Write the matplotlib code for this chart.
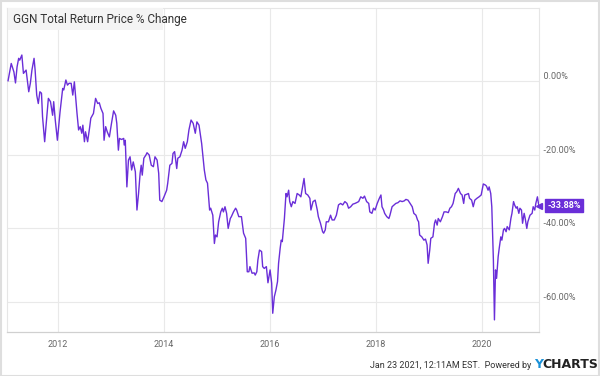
import matplotlib
matplotlib.use("Agg")
import matplotlib.pyplot as plt
from matplotlib import font_manager
from matplotlib.patches import Rectangle

# ---------------- data (decimal year, % change) ----------------
years = [
    2011.06, 2011.12, 2011.14, 2011.17, 2011.20, 2011.23, 2011.26, 2011.28, 2011.32, 2011.35,
    2011.40, 2011.45, 2011.48, 2011.51, 2011.55, 2011.57, 2011.60, 2011.63, 2011.66, 2011.69,
    2011.71, 2011.75, 2011.79, 2011.82, 2011.86, 2011.90, 2011.92, 2011.95, 2011.99,
    2012.04, 2012.09, 2012.11, 2012.15, 2012.18, 2012.21, 2012.25, 2012.28, 2012.31, 2012.36,
    2012.39, 2012.42, 2012.45, 2012.47, 2012.50, 2012.52, 2012.56, 2012.60, 2012.62, 2012.67,
    2012.71, 2012.75, 2012.78, 2012.81, 2012.85, 2012.87, 2012.90, 2012.93, 2012.97,
    2013.01, 2013.05, 2013.09, 2013.11, 2013.14, 2013.16, 2013.20, 2013.24, 2013.25, 2013.27,
    2013.30, 2013.33, 2013.36, 2013.39, 2013.42, 2013.46, 2013.49, 2013.52, 2013.55, 2013.57,
    2013.59, 2013.62, 2013.66, 2013.68, 2013.72, 2013.76, 2013.80, 2013.83, 2013.87, 2013.90,
    2013.92, 2013.96,
    2014.00, 2014.05, 2014.07, 2014.11, 2014.15, 2014.17, 2014.20, 2014.24, 2014.26, 2014.30,
    2014.34, 2014.37, 2014.40, 2014.44, 2014.47, 2014.51, 2014.55, 2014.59, 2014.62, 2014.66,
    2014.71, 2014.74, 2014.76, 2014.79, 2014.82, 2014.86, 2014.88, 2014.92, 2014.95, 2014.97,
    2015.00, 2015.03, 2015.07, 2015.10, 2015.12, 2015.15, 2015.18, 2015.21, 2015.25, 2015.27,
    2015.31, 2015.35, 2015.37, 2015.41, 2015.46, 2015.50, 2015.54, 2015.57, 2015.60, 2015.62,
    2015.66, 2015.70, 2015.72, 2015.75, 2015.77, 2015.80, 2015.84, 2015.86, 2015.89, 2015.93,
    2015.96,
    2016.00, 2016.03, 2016.05, 2016.08, 2016.11, 2016.14, 2016.16, 2016.19, 2016.21, 2016.23,
    2016.27, 2016.30, 2016.32, 2016.35, 2016.37, 2016.40, 2016.43, 2016.47, 2016.51, 2016.55,
    2016.58, 2016.64, 2016.67, 2016.71, 2016.75, 2016.77, 2016.81, 2016.85, 2016.89, 2016.91,
    2016.95, 2016.99,
    2017.01, 2017.04, 2017.06, 2017.10, 2017.14, 2017.17, 2017.21, 2017.25, 2017.29, 2017.33,
    2017.37, 2017.41, 2017.45, 2017.48, 2017.52, 2017.56, 2017.60, 2017.63, 2017.67, 2017.71,
    2017.75, 2017.78, 2017.82, 2017.86, 2017.88, 2017.92, 2017.95, 2017.98,
    2018.02, 2018.06, 2018.09, 2018.11, 2018.14, 2018.16, 2018.20, 2018.24, 2018.26, 2018.30,
    2018.34, 2018.37, 2018.41, 2018.45, 2018.49, 2018.53, 2018.56, 2018.60, 2018.64, 2018.68,
    2018.71, 2018.75, 2018.78, 2018.80, 2018.82, 2018.86, 2018.90, 2018.93, 2018.96, 2018.98,
    2019.01, 2019.03, 2019.07, 2019.10, 2019.12, 2019.15, 2019.17, 2019.21, 2019.25, 2019.28,
    2019.32, 2019.36, 2019.39, 2019.42, 2019.45, 2019.49, 2019.52, 2019.55, 2019.59, 2019.62,
    2019.65, 2019.67, 2019.71, 2019.74, 2019.76, 2019.80, 2019.83, 2019.86, 2019.90, 2019.94,
    2019.98,
    2020.02, 2020.06, 2020.08, 2020.11, 2020.13, 2020.16, 2020.18, 2020.21, 2020.23, 2020.25,
    2020.27, 2020.30, 2020.32, 2020.35, 2020.37, 2020.40, 2020.42, 2020.45, 2020.47, 2020.51,
    2020.54, 2020.56, 2020.59, 2020.61, 2020.64, 2020.66, 2020.69, 2020.71, 2020.74, 2020.76,
    2020.79, 2020.81, 2020.84, 2020.86, 2020.90, 2020.94, 2020.96, 2020.99,
    2021.01, 2021.04, 2021.06, 2021.07,
]
pct_change = [
    0.1, 4.8, 3.9, 2.5, -0.5, 3.9, 6.2, 5.7, 7.1, 2.1,
    3.0, -2.9, -0.6, 3.0, 6.2, 3.0, -3.8, -6.1, -2.9, -3.3,
    -9.7, -16.5, -9.7, -4.7, -5.6, -9.3, -5.6, -10.6, -16.1,
    -8.4, -2.0, -2.4, 0.3, -1.1, -0.6, -0.6, -3.8, -0.2, -8.8,
    -13.3, -12.4, -14.2, -12.0, -16.5, -13.8, -16.5, -12.4, -10.1, -8.8,
    -4.7, -6.1, -5.9, -7.4, -8.8, -16.1, -12.4, -13.8, -15.2,
    -11.5, -8.1, -9.3, -11.5, -18.8, -15.6, -15.9, -15.6, -17.4, -16.1,
    -28.8, -21.5, -20.6, -24.2, -22.0, -24.7, -35.1, -30.6, -25.1, -22.9,
    -25.6, -21.0, -20.1, -19.5, -20.1, -22.9, -23.3, -20.6, -21.5, -25.1,
    -32.4, -32.8,
    -31.5, -29.7, -27.8, -22.9, -22.4, -19.7, -19.2, -23.8, -21.0, -20.6,
    -18.8, -16.5, -18.3, -16.5, -13.3, -10.6, -11.5, -14.2, -11.1, -12.0,
    -17.0, -21.5, -24.2, -26.9, -27.8, -35.1, -34.6, -36.5, -44.2, -41.9,
    -42.4, -38.3, -35.6, -34.6, -35.6, -34.2, -36.0, -40.1, -37.4, -36.9,
    -35.6, -34.6, -35.1, -36.9, -36.9, -41.4, -42.8, -51.9, -51.9, -50.5,
    -52.3, -52.2, -52.8, -51.9, -48.7, -46.0, -46.4, -50.5, -51.0, -50.5,
    -54.9,
    -51.4, -55.0, -63.2, -58.7, -56.9, -54.6, -49.6, -45.5, -43.3, -43.7,
    -37.4, -30.6, -31.5, -29.7, -32.8, -34.2, -32.8, -33.3, -30.6, -31.0,
    -31.5, -26.5, -30.6, -31.0, -31.9, -35.1, -32.8, -32.4, -35.1, -36.9,
    -38.7, -41.0,
    -41.4, -40.5, -38.3, -38.3, -36.5, -37.8, -37.8, -36.5, -33.7, -33.3,
    -33.7, -32.8, -33.3, -34.6, -34.2, -33.5, -33.3, -33.1, -32.8, -31.5,
    -31.9, -31.3, -32.8, -33.3, -35.6, -36.0, -34.6, -35.1,
    -33.3, -31.9, -31.0, -34.2, -35.1, -36.0, -36.9, -37.4, -36.5, -34.2,
    -33.7, -33.3, -33.1, -32.6, -32.8, -32.6, -32.2, -32.4, -33.3, -34.2,
    -36.0, -36.5, -37.8, -38.3, -41.9, -42.4, -43.3, -43.0, -44.6, -49.6,
    -46.0, -42.8, -42.4, -38.7, -37.8, -39.2, -37.4, -38.3, -36.9, -35.6,
    -35.6, -35.8, -34.6, -34.2, -33.3, -30.6, -30.1, -29.2, -30.6, -31.0,
    -33.3, -31.0, -30.8, -30.6, -31.9, -32.4, -34.2, -32.4, -31.9, -31.5,
    -31.0,
    -28.0, -28.3, -28.6, -29.7, -28.8, -30.6, -34.2, -48.7, -65.0, -51.4,
    -53.7, -47.8, -45.5, -42.4, -43.3, -40.5, -40.1, -41.0, -39.6, -40.5,
    -37.4, -36.0, -32.8, -33.7, -34.6, -34.2, -36.0, -34.6, -35.1, -38.7,
    -36.0, -37.4, -40.1, -38.3, -36.5, -36.0, -34.2, -35.1,
    -33.3, -31.5, -33.3, -33.88,
]
year_ticks = [2012, 2014, 2016, 2018, 2020]
pct_ticks = [0, -20, -40, -60]
last_value = -33.88

# ---------------- fonts ----------------
def pick_font(names):
    for n in names:
        try:
            font_manager.findfont(n, fallback_to_default=False)
            return n
        except Exception:
            pass
    return "DejaVu Sans"

narrow = pick_font(["Liberation Sans Narrow", "Roboto", "DejaVu Sans"])
plt.rcParams["font.family"] = [narrow, "DejaVu Sans"]

LINE = "#6a2ed8"
GRID = "#e9e9e9"
TXT = "#666666"

# ---------------- figure ----------------
fig = plt.figure(figsize=(6.0, 3.76), dpi=100)
W, H = 600, 376
ax = fig.add_axes([7 / W, 1 - 332 / H, (539 - 7) / W, (332 - 8) / H])

ax.plot(years, pct_change, color=LINE, lw=1.0, solid_joinstyle="round", zorder=3)

ax.set_xlim(2011.04, 2021.07)
ax.set_ylim(-68.3, 19.9)
ax.set_xticks(year_ticks)
ax.set_xticklabels([str(y) for y in year_ticks])
ax.set_yticks(pct_ticks)
ax.set_yticklabels([])
ax.tick_params(axis="x", length=0, pad=6, labelsize=6.5, labelcolor=TXT)
ax.tick_params(axis="y", length=0)
ax.grid(True, color=GRID, lw=0.8, zorder=0)
for side in ["top", "right", "left"]:
    ax.spines[side].set_color("#e6e6e6")
    ax.spines[side].set_linewidth(0.8)
ax.spines["bottom"].set_color("#d0d0d0")
ax.spines["bottom"].set_linewidth(0.9)

# y labels to the right, sitting on top of the grid line
for v in pct_ticks:
    ax.text(1.0, v, f"  {v:.2f}%", transform=ax.get_yaxis_transform(),
            ha="left", va="bottom", fontsize=6.5, color=TXT)

# last value flag
ax.plot([1.0], [last_value], marker="<", ms=5, color=LINE, clip_on=False,
        transform=ax.get_yaxis_transform(), zorder=5)
ax.annotate(f"{last_value:.2f}%", xy=(1.0, last_value), xycoords=ax.get_yaxis_transform(),
            xytext=(6, 0), textcoords="offset points", ha="left", va="center",
            fontsize=6.5, color="white", fontweight="bold",
            bbox=dict(boxstyle="square,pad=0.25", fc=LINE, ec=LINE))

# title box
fig.patches.append(Rectangle((8 / W, 1 - 30 / H), (163 - 8) / W, 22 / H,
                             transform=fig.transFigure, fc="#f4f4f4", ec="none", zorder=5))
fig.text(13 / W, 1 - 19.5 / H, "GGN Total Return Price % Change", fontsize=8.5,
         color="#333333", va="center", ha="left", zorder=6)

# footer
fig.text(531 / W, 1 - 366 / H, "Jan 23 2021, 12:11AM EST.  Powered by", fontsize=6.5,
         color="#333333", ha="right", va="center")
fig.text(534 / W, 1 - 365 / H, "Y", fontsize=9, fontweight="bold", color="#1a91d8",
         ha="left", va="center", family="DejaVu Sans")
fig.text(542 / W, 1 - 365 / H, "CHARTS", fontsize=9, fontweight="bold", color="#222222",
         ha="left", va="center", family="DejaVu Sans")

# outer frame
fig.patches.append(Rectangle((0.5 / W, 0.5 / H), (W - 1.5) / W, (H - 1.5) / H,
                             transform=fig.transFigure, fc="none", ec="#dedede", lw=1.5))

fig.savefig("out.png", dpi=100)
